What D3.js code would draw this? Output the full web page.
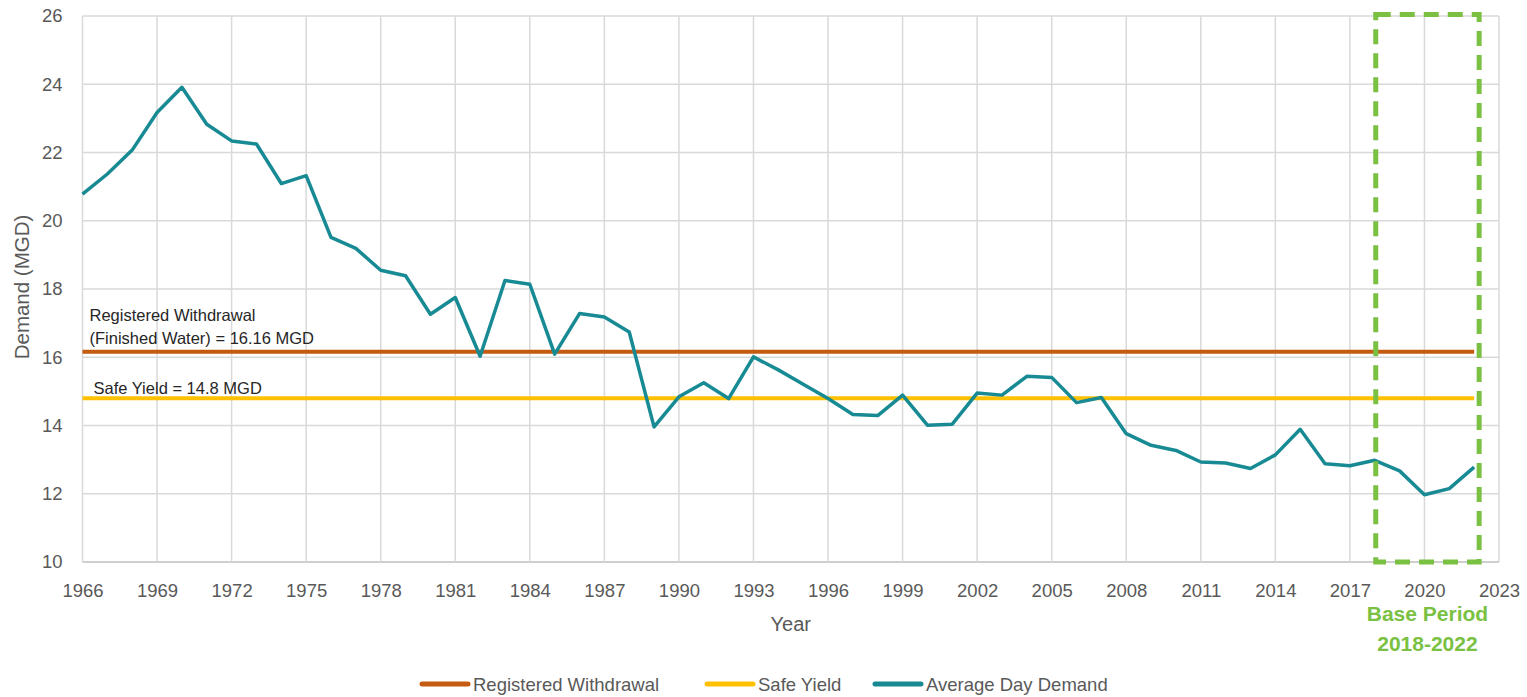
<!DOCTYPE html>
<html>
<head>
<meta charset="utf-8">
<script src="https://cdn.jsdelivr.net/npm/d3@7"></script>
<style>
  body { margin: 0; background: #fff; }
  text { font-family: "Liberation Sans", Arial, sans-serif; }
</style>
</head>
<body>
<div class="demandplot"></div>
<script>
// data
var years = [1966, 1967, 1968, 1969, 1970, 1971, 1972, 1973, 1974, 1975,
             1976, 1977, 1978, 1979, 1980, 1981, 1982, 1983, 1984, 1985,
             1986, 1987, 1988, 1989, 1990, 1991, 1992, 1993, 1994, 1995,
             1996, 1997, 1998, 1999, 2000, 2001, 2002, 2003, 2004, 2005,
             2006, 2007, 2008, 2009, 2010, 2011, 2012, 2013, 2014, 2015,
             2016, 2017, 2018, 2019, 2020, 2021, 2022];
var averageDayDemand = [20.78, 21.37, 22.07, 23.17, 23.91, 22.83, 22.34, 22.25, 21.09, 21.32,
                        19.51, 19.19, 18.55, 18.39, 17.26, 17.75, 16.03, 18.25, 18.14, 16.09,
                        17.28, 17.18, 16.74, 13.96, 14.84, 15.25, 14.79, 16.01, 15.63, 15.21,
                        14.79, 14.32, 14.29, 14.89, 14.01, 14.04, 14.95, 14.89, 15.44, 15.41,
                        14.67, 14.82, 13.76, 13.42, 13.27, 12.93, 12.90, 12.74, 13.14, 13.89,
                        12.88, 12.82, 12.98, 12.67, 11.97, 12.15, 12.78];
var registeredWithdrawal = 16.16;
var safeYield = 14.8;
var basePeriod = [2018, 2022];
var xTicks = [1966, 1969, 1972, 1975, 1978, 1981, 1984, 1987, 1990, 1993,
              1996, 1999, 2002, 2005, 2008, 2011, 2014, 2017, 2020, 2023];
var yTicks = [10, 12, 14, 16, 18, 20, 22, 24, 26];
var seriesNames = ["Registered Withdrawal", "Safe Yield", "Average Day Demand"];
var seriesColors = ["#c55a11", "#ffc000", "#178a93"];

// set the dimensions and margins of the graph
var margin = {top: 16, right: 28, bottom: 135, left: 82.5},
    width = 1527 - margin.left - margin.right,
    height = 697 - margin.top - margin.bottom;

var svg = d3.select(".demandplot")
  .append("svg")
  .attr("width", 1527)
  .attr("height", 697);

var plot = svg.append("g")
  .attr("transform", "translate(" + margin.left + "," + margin.top + ")");

var x = d3.scaleLinear()
  .domain([1966, 2023])
  .range([0, width]);

var y = d3.scaleLinear()
  .domain([10, 26])
  .range([height, 0]);

// gridlines
plot.append("g")
  .selectAll("line")
  .data(yTicks)
  .enter()
  .append("line")
  .attr("x1", 0)
  .attr("x2", width)
  .attr("y1", function(d) { return y(d); })
  .attr("y2", function(d) { return y(d); })
  .attr("stroke", function(d) { return d === 10 ? "#bfbfbf" : "#d9d9d9"; })
  .attr("stroke-width", 1.5);

plot.append("g")
  .selectAll("line")
  .data(xTicks)
  .enter()
  .append("line")
  .attr("x1", function(d) { return x(d); })
  .attr("x2", function(d) { return x(d); })
  .attr("y1", 0)
  .attr("y2", height)
  .attr("stroke", "#d9d9d9")
  .attr("stroke-width", 1.5);

// X axis labels
var xAxis = plot.append("g")
  .attr("transform", "translate(0," + height + ")")
  .call(d3.axisBottom(x).tickValues(xTicks).tickFormat(d3.format("d")).tickSize(0).tickPadding(22));
xAxis.select(".domain").remove();
xAxis.selectAll("text")
  .attr("font-size", "18.5px")
  .attr("font-family", "Liberation Sans, Arial, sans-serif")
  .attr("fill", "#595959");

// Y axis labels
var yAxis = plot.append("g")
  .call(d3.axisLeft(y).tickValues(yTicks).tickSize(0).tickPadding(20));
yAxis.select(".domain").remove();
yAxis.selectAll("text")
  .attr("font-size", "18.5px")
  .attr("font-family", "Liberation Sans, Arial, sans-serif")
  .attr("fill", "#595959");

// axis titles
plot.append("text")
  .attr("text-anchor", "middle")
  .attr("x", width / 2)
  .attr("y", height + 69)
  .attr("font-size", "20px")
  .attr("fill", "#595959")
  .text("Year");

svg.append("text")
  .attr("text-anchor", "middle")
  .attr("transform", "translate(29," + 287 + ") rotate(-90)")
  .attr("font-size", "20.5px")
  .attr("fill", "#595959")
  .text("Demand (MGD)");

// flat lines over the record years
var line = d3.line()
  .x(function(d) { return x(d[0]); })
  .y(function(d) { return y(d[1]); });

var firstYear = years[0], lastYear = years[years.length - 1];

plot.append("path")
  .datum([[firstYear, registeredWithdrawal], [lastYear, registeredWithdrawal]])
  .attr("d", line)
  .attr("fill", "none")
  .attr("stroke", seriesColors[0])
  .attr("stroke-width", 4);

plot.append("path")
  .datum([[firstYear, safeYield], [lastYear, safeYield]])
  .attr("d", line)
  .attr("fill", "none")
  .attr("stroke", seriesColors[1])
  .attr("stroke-width", 4);

// Average day demand
plot.append("path")
  .datum(years.map(function(d, i) { return [d, averageDayDemand[i]]; }))
  .attr("d", line)
  .attr("fill", "none")
  .attr("stroke", seriesColors[2])
  .attr("stroke-width", 3.5)
  .attr("stroke-linejoin", "round");

// notes on the flat lines
var note = plot.append("text")
  .attr("font-size", "16.5px")
  .attr("fill", "#262626");
note.append("tspan")
  .attr("x", 7)
  .attr("y", y(registeredWithdrawal) - 31)
  .text("Registered Withdrawal");
note.append("tspan")
  .attr("x", 7)
  .attr("y", y(registeredWithdrawal) - 7.5)
  .text("(Finished Water) = " + registeredWithdrawal + " MGD");

plot.append("text")
  .attr("font-size", "16.5px")
  .attr("fill", "#262626")
  .attr("x", 11)
  .attr("y", y(safeYield) - 4.5)
  .text("Safe Yield = " + safeYield + " MGD");

// base period box
plot.append("rect")
  .attr("x", x(basePeriod[0]) + 1)
  .attr("y", y(26) - 1.5)
  .attr("width", x(basePeriod[1]) - x(basePeriod[0]) + 4)
  .attr("height", y(10) - y(26) + 1.5)
  .attr("fill", "none")
  .attr("stroke", "#7ac143")
  .attr("stroke-width", 5)
  .attr("stroke-dasharray", "15,9");

var boxCenter = (x(basePeriod[0]) + x(basePeriod[1])) / 2 + 3;
plot.append("text")
  .attr("text-anchor", "middle")
  .attr("x", boxCenter)
  .attr("y", height + 59)
  .attr("font-size", "21px")
  .attr("font-weight", "bold")
  .attr("fill", "#7ac143")
  .text("Base Period");
plot.append("text")
  .attr("text-anchor", "middle")
  .attr("x", boxCenter)
  .attr("y", height + 89)
  .attr("font-size", "21px")
  .attr("font-weight", "bold")
  .attr("fill", "#7ac143")
  .text(basePeriod[0] + "-" + basePeriod[1]);

// legend
var legendX = [420, 705, 873];
var legend = svg.append("g")
  .selectAll("g")
  .data(seriesNames)
  .enter()
  .append("g")
  .attr("transform", function(d, i) { return "translate(" + legendX[i] + ",684)"; });

legend.append("line")
  .attr("x1", 2)
  .attr("x2", 48)
  .attr("y1", 0)
  .attr("y2", 0)
  .attr("stroke", function(d, i) { return seriesColors[i]; })
  .attr("stroke-width", 5)
  .attr("stroke-linecap", "round");

legend.append("text")
  .attr("x", 53)
  .attr("y", 6.5)
  .attr("font-size", "18.5px")
  .attr("fill", "#595959")
  .text(function(d) { return d; });
</script>
</body>
</html>
